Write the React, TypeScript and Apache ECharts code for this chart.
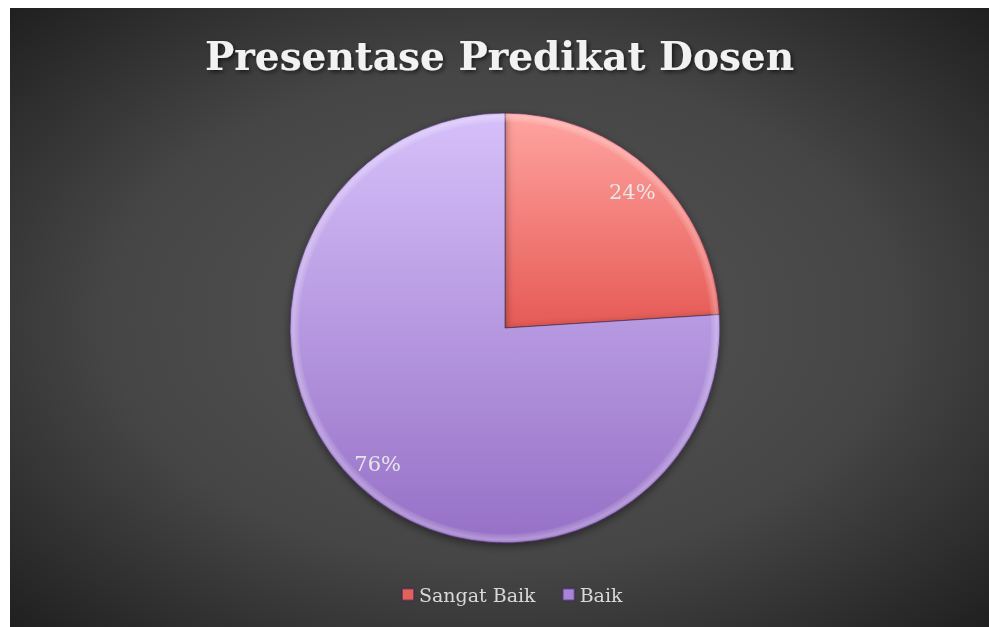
import React, { useEffect, useRef } from "react";
import * as echarts from "echarts";

const titleText = "Presentase Predikat Dosen";
const categories = ["Sangat Baik", "Baik"];
const values = [24, 76];

export default function App() {
  const ref = useRef<HTMLDivElement>(null);
  useEffect(() => {
    if (!ref.current) return;
    const chart = echarts.init(ref.current, undefined, { renderer: "svg" });
    const cy = 320;
    const R = 215;
    const grad = (top: string, bottom: string) => ({
      type: "linear",
      x: 0,
      y: 0,
      x2: 0,
      y2: 1,
      colorStops: [
        { offset: 0, color: top },
        { offset: 1, color: bottom },
      ],
    });
    const fills = [grad("#FFA4A0", "#E65A55"), grad("#D6C0FA", "#9670C6")];
    const legendColors = ["#E0605A", "#A884D8"];
    chart.setOption({
      animation: false,
      backgroundColor: {
        type: "radial",
        x: 0.5,
        y: 0.5,
        r: 0.72,
        colorStops: [
          { offset: 0, color: "#545454" },
          { offset: 0.55, color: "#464646" },
          { offset: 1, color: "#1E1E1E" },
        ],
      },
      title: {
        text: titleText,
        left: "center",
        top: 23,
        textStyle: {
          fontFamily: "DejaVu Serif",
          fontWeight: "bold",
          fontSize: 39,
          color: "#F2F2F2",
          textShadowColor: "rgba(0,0,0,0.6)",
          textShadowBlur: 4,
          textShadowOffsetX: 2,
          textShadowOffsetY: 2,
        },
      },
      legend: {
        bottom: 18,
        left: 386,
        icon: "rect",
        itemWidth: 12,
        itemHeight: 12,
        itemGap: 26,
        textStyle: { fontFamily: "DejaVu Serif", fontSize: 19, color: "#D9D9D9" },
        data: categories.map((c, i) => ({ name: c, itemStyle: { color: legendColors[i] } })),
      },
      series: [
        {
          type: "pie",
          center: [495, cy],
          radius: [0, R],
          startAngle: 90,
          clockwise: true,
          silent: true,
          label: { show: false },
          labelLine: { show: false },
          itemStyle: {
            borderColor: "rgba(60,40,80,0.6)",
            borderWidth: 1,
            shadowBlur: 8,
            shadowColor: "rgba(0,0,0,0.45)",
            shadowOffsetY: 3,
          },
          data: categories.map((c, i) => ({ name: c, value: values[i], itemStyle: { color: fills[i] } })),
        },
        {
          type: "pie",
          center: [495, cy],
          radius: [R - 9, R - 1],
          startAngle: 90,
          clockwise: true,
          silent: true,
          legendHoverLink: false,
          label: { show: false },
          labelLine: { show: false },
          itemStyle: {
            color: {
              type: "radial",
              x: 495,
              y: cy,
              r: R,
              global: true,
              colorStops: [
                { offset: 0.95, color: "rgba(255,255,255,0)" },
                { offset: 0.985, color: "rgba(255,255,255,0.28)" },
                { offset: 1, color: "rgba(255,255,255,0.05)" },
              ],
            },
          },
          data: categories.map((c, i) => ({ name: c, value: values[i] })),
        },
        {
          type: "pie",
          center: [495, cy],
          radius: [151, 215],
          startAngle: 90,
          clockwise: true,
          silent: true,
          legendHoverLink: false,
          itemStyle: { color: "rgba(0,0,0,0)" },
          label: {
            show: true,
            position: "inside",
            formatter: (p: any) => Math.round(p.percent) + "%",
            fontFamily: "DejaVu Serif",
            fontSize: 21,
            color: "#E6E6E6",
          },
          labelLine: { show: false },
          data: categories.map((c, i) => ({ name: c, value: values[i] })),
        },
      ],
    });
    return () => chart.dispose();
  }, []);
  return (
    <div
      ref={ref}
      style={{ position: "fixed", left: 10, top: 8, width: 979, height: 619 }}
    />
  );
}
